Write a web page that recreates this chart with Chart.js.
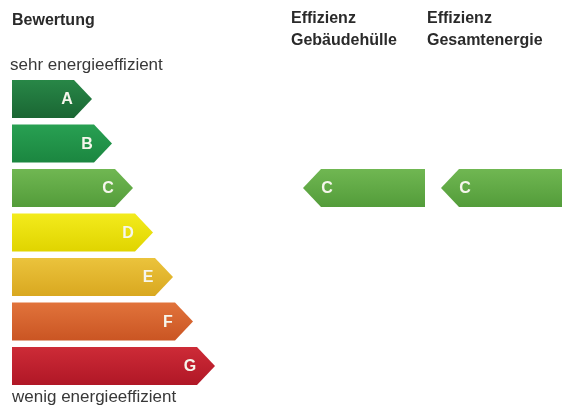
<!DOCTYPE html>
<html>
<head>
<meta charset="utf-8">
<script src="https://cdn.jsdelivr.net/npm/chart.js@4.4.1/dist/chart.umd.min.js"></script>
<style>
  html, body { margin: 0; padding: 0; background: #fff; }
</style>
</head>
<body>
<canvas id="skala" width="562" height="414"></canvas>
<script>
// Energieklassen und Länge der Pfeile (Ende inkl. Spitze, in px-Einheiten der x-Achse)
const klassen = ['A', 'B', 'C', 'D', 'E', 'F', 'G'];
const skalaStart = 12;
const skalaEnde = [92, 112, 133, 153, 173, 193, 215];

// Einstufung des Gebäudes
const klasseHuelle = 'C';
const klasseGesamt = 'C';
const bereichHuelle = [303, 425];
const bereichGesamt = [441, 575];

const kopfBewertung = 'Bewertung';
const textOben = 'sehr energieeffizient';
const textUnten = 'wenig energieeffizient';

// Verlauf je Klasse: [oben, unten]
const farben = {
  A: ['#288747', '#1a6633'],
  B: ['#28a052', '#1b8640'],
  C: ['#70b752', '#539c3a'],
  D: ['#f3eb1c', '#e0d400'],
  E: ['#ebc33c', '#d9a820'],
  F: ['#e1733b', '#ca5523'],
  G: ['#cd2b37', '#b01726']
};

const schrift = '"Liberation Sans", Arial, sans-serif';
const SPITZE = 18;

const einstufung = (klasse, bereich) => klassen.map(k => (k === klasse ? bereich : null));

const pfeilPlugin = {
  id: 'pfeile',
  beforeDatasetDraw(chart, args) {
    const ctx = chart.ctx;
    const ds = chart.data.datasets[args.index];
    args.meta.data.forEach((bar, i) => {
      const raw = ds.data[i];
      if (!raw) return;
      const { x, y, base, height } = bar.getProps(['x', 'y', 'base', 'height'], true);
      const oben = y - height / 2, unten = y + height / 2;
      const klasse = ds.klasse || klassen[i];
      const [c1, c2] = farben[klasse];
      const grad = ctx.createLinearGradient(0, oben, 0, unten);
      grad.addColorStop(0, c1);
      grad.addColorStop(1, c2);

      ctx.save();
      ctx.beginPath();
      let textX;
      if (ds.richtung === 'links') {
        ctx.moveTo(base, y);
        ctx.lineTo(base + SPITZE, oben);
        ctx.lineTo(x, oben);
        ctx.lineTo(x, unten);
        ctx.lineTo(base + SPITZE, unten);
        textX = base + 24;
      } else {
        ctx.moveTo(base, oben);
        ctx.lineTo(x - SPITZE, oben);
        ctx.lineTo(x, y);
        ctx.lineTo(x - SPITZE, unten);
        ctx.lineTo(base, unten);
        textX = x - 25;
      }
      ctx.closePath();
      ctx.fillStyle = grad;
      ctx.fill();

      ctx.fillStyle = '#f6f6ec';
      ctx.font = 'bold 16px ' + schrift;
      ctx.textAlign = 'center';
      ctx.textBaseline = 'middle';
      ctx.fillText(klasse, textX, y + 1);
      ctx.restore();
    });
    return false;
  }
};

const textPlugin = {
  id: 'beschriftung',
  afterDraw(chart) {
    const ctx = chart.ctx;
    const xs = chart.scales.x;
    ctx.save();
    ctx.textAlign = 'left';
    ctx.textBaseline = 'alphabetic';

    ctx.fillStyle = '#2a2a2a';
    ctx.font = 'bold 16px ' + schrift;
    ctx.fillText(kopfBewertung, xs.getPixelForValue(skalaStart), 25);

    // Spaltenköpfe der Einstufungen
    chart.data.datasets.slice(1).forEach(ds => {
      const zeilen = ds.label.split(' ');
      const kx = xs.getPixelForValue(ds.kopfX);
      zeilen.forEach((z, j) => ctx.fillText(z, kx, 23 + j * 22));
    });

    ctx.fillStyle = '#383838';
    ctx.font = '17px ' + schrift;
    ctx.fillText(textOben, xs.getPixelForValue(skalaStart - 2), 70);
    ctx.fillText(textUnten, xs.getPixelForValue(skalaStart), 402);
    ctx.restore();
  }
};

new Chart(document.getElementById('skala'), {
  type: 'bar',
  data: {
    labels: klassen,
    datasets: [
      {
        label: kopfBewertung,
        data: klassen.map((k, i) => [skalaStart, skalaEnde[i]]),
        richtung: 'rechts'
      },
      {
        label: 'Effizienz Gebäudehülle',
        data: einstufung(klasseHuelle, bereichHuelle),
        klasse: klasseHuelle,
        richtung: 'links',
        kopfX: 291
      },
      {
        label: 'Effizienz Gesamtenergie',
        data: einstufung(klasseGesamt, bereichGesamt),
        klasse: klasseGesamt,
        richtung: 'links',
        kopfX: 427
      }
    ]
  },
  options: {
    indexAxis: 'y',
    responsive: false,
    animation: false,
    devicePixelRatio: 1,
    layout: { padding: { top: 76.75, bottom: 25.75, left: 0, right: 0 } },
    datasets: {
      bar: { grouped: false, barThickness: 38, borderWidth: 0 }
    },
    scales: {
      x: { type: 'linear', min: 0, max: 562, display: false },
      y: { type: 'category', display: false, offset: true }
    },
    plugins: {
      legend: { display: false },
      tooltip: { enabled: false }
    }
  },
  plugins: [pfeilPlugin, textPlugin]
});
</script>
</body>
</html>
